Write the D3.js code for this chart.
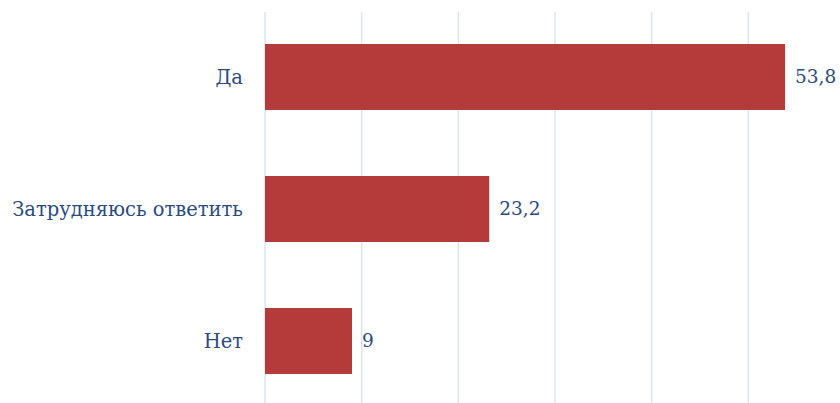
<!DOCTYPE html>
<html><head><meta charset="utf-8">
<script src="https://cdn.jsdelivr.net/npm/d3@7"></script>
<style>body{margin:0;background:#fff}svg{display:block}</style>
</head><body>
<svg id="c" width="840" height="403"></svg>
<script>
const categories = ["Да", "Затрудняюсь ответить", "Нет"];
const values = [53.8, 23.2, 9];
const valueLabels = ["53,8", "23,2", "9"];
const gridTicks = [0, 10, 20, 30, 40, 50];

const svg = d3.select("#c");
const x = d3.scaleLinear().domain([0, 60]).range([265, 845]);
const y = d3.scaleBand().domain(categories).range([11, 407]).paddingInner(0.5).paddingOuter(0.25);
const font = "'DejaVu Serif', serif";
const textColor = "#2b4b7e";

svg.append("g").selectAll("line").data(gridTicks).join("line")
  .attr("x1", d => x(d)).attr("x2", d => x(d))
  .attr("y1", 12).attr("y2", 403)
  .attr("stroke", "#dbe5f1").attr("stroke-width", 1.5);

svg.append("g").selectAll("rect").data(values).join("rect")
  .attr("x", x(0)).attr("y", (d, i) => y(categories[i]))
  .attr("width", d => x(d) - x(0)).attr("height", y.bandwidth())
  .attr("fill", "#b53b3a");

svg.append("g").selectAll("text").data(categories).join("text")
  .attr("x", 243).attr("y", d => y(d) + y.bandwidth() / 2)
  .attr("dy", "0.35em").attr("text-anchor", "end")
  .attr("font-family", font).attr("font-size", 19.5).attr("fill", textColor)
  .text(d => d);

svg.append("g").selectAll("text").data(values).join("text")
  .attr("x", d => x(d) + 10).attr("y", (d, i) => y(categories[i]) + y.bandwidth() / 2)
  .attr("dy", "0.35em")
  .attr("font-family", font).attr("font-size", 18.5).attr("fill", textColor)
  .text((d, i) => valueLabels[i]);
</script>
</body></html>
